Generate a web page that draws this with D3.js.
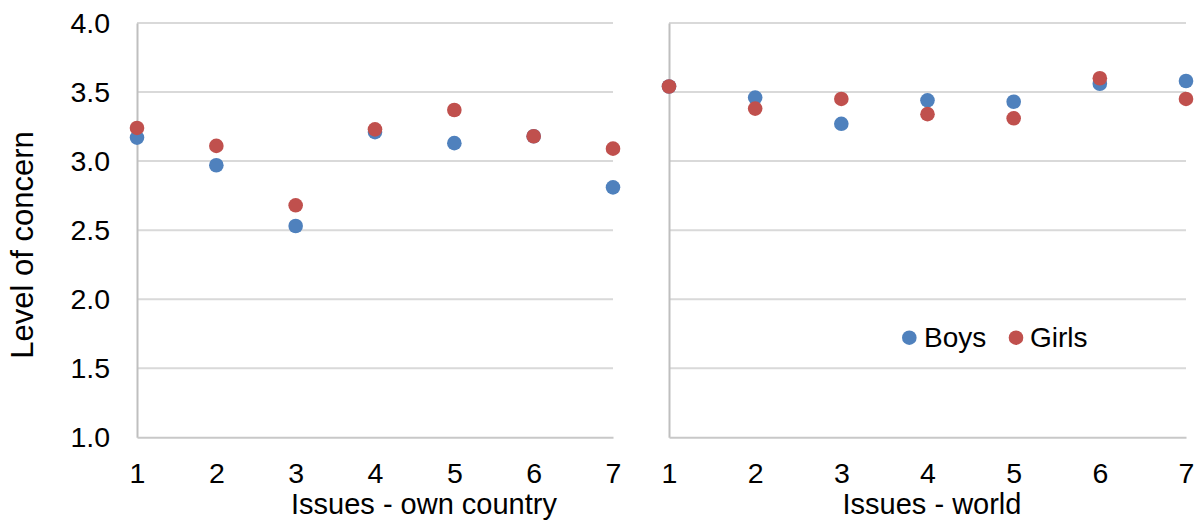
<!DOCTYPE html>
<html>
<head>
<meta charset="utf-8">
<script src="https://cdn.jsdelivr.net/npm/d3@7/dist/d3.min.js"></script>
<style>
  html, body { margin: 0; padding: 0; background: #fff; }
  svg { display: block; font-family: "Liberation Sans", Arial, sans-serif; }
</style>
</head>
<body>
<svg id="chart" width="1198" height="520"></svg>
<script>
// ---- data ----
const issues = [1, 2, 3, 4, 5, 6, 7];
const yTicks = [1.0, 1.5, 2.0, 2.5, 3.0, 3.5, 4.0];
const boysOwn   = [3.17, 2.97, 2.53, 3.21, 3.13, 3.18, 2.81];
const girlsOwn  = [3.24, 3.11, 2.68, 3.23, 3.37, 3.18, 3.09];
const boysWorld  = [3.54, 3.46, 3.27, 3.44, 3.43, 3.56, 3.58];
const girlsWorld = [3.54, 3.38, 3.45, 3.34, 3.31, 3.60, 3.45];
const seriesNames = ["Boys", "Girls"];
const seriesColors = ["#4F81BD", "#C0504D"];
const panelTitles = ["Issues - own country", "Issues - world"];
const yTitle = "Level of concern";

const FONT = "'Liberation Sans', Arial, sans-serif";
const svg = d3.select("#chart");
const y = d3.scaleLinear().domain([1, 4]).range([437.3, 23]);

const panels = [
  { x0: 137, x1: 613, boys: boysOwn, girls: girlsOwn, title: panelTitles[0], titleX: 424, yLabels: true },
  { x0: 669, x1: 1186, boys: boysWorld, girls: girlsWorld, title: panelTitles[1], titleX: 932, yLabels: false }
];

panels.forEach(p => {
  const x = d3.scaleLinear().domain([1, 7]).range([p.x0, p.x1]);
  const g = svg.append("g");

  // gridlines
  g.append("g")
    .selectAll("line")
    .data(yTicks.filter(v => v > 1))
    .join("line")
    .attr("x1", p.x0).attr("x2", p.x1)
    .attr("y1", d => y(d)).attr("y2", d => y(d))
    .attr("stroke", "#d9d9d9").attr("stroke-width", 2);

  // y axis
  const ya = g.append("g")
    .attr("transform", `translate(${p.x0},0)`)
    .call(d3.axisLeft(y).tickValues(yTicks).tickFormat(d3.format(".1f")).tickSize(0).tickPadding(27));
  ya.select(".domain").attr("stroke", "#bfbfbf").attr("stroke-width", 2);
  ya.selectAll("text").attr("font-size", 28.5).attr("fill", "#000")
    .attr("font-family", FONT);
  if (!p.yLabels) ya.selectAll(".tick text").remove();

  // x axis
  const xa = g.append("g")
    .attr("transform", `translate(0,${y(1)})`)
    .call(d3.axisBottom(x).tickValues(issues).tickFormat(d3.format("d")).tickSize(0).tickPadding(25));
  xa.select(".domain").attr("stroke", "#c8c8c8").attr("stroke-width", 2);
  xa.selectAll("text").attr("font-size", 28.5).attr("fill", "#000")
    .attr("font-family", FONT);

  // points: Boys then Girls (girls on top)
  [p.boys, p.girls].forEach((vals, si) => {
    g.append("g").selectAll("circle")
      .data(vals)
      .join("circle")
      .attr("cx", (d, i) => x(issues[i]))
      .attr("cy", d => y(d))
      .attr("r", 7.3)
      .attr("fill", seriesColors[si]);
  });

  // panel title
  svg.append("text")
    .attr("x", p.titleX).attr("y", 514)
    .attr("text-anchor", "middle")
    .attr("font-size", 29)
    .attr("font-family", FONT)
    .attr("fill", "#000")
    .text(p.title);
});

// y title
svg.append("text")
  .attr("transform", "translate(33,245) rotate(-90)")
  .attr("text-anchor", "middle")
  .attr("font-size", 31)
  .attr("font-family", FONT)
  .attr("fill", "#000")
  .text(yTitle);

// legend
const legendItems = [
  { cx: 909.3, tx: 924 },
  { cx: 1016, tx: 1030 }
];
const lg = svg.append("g");
seriesNames.forEach((name, i) => {
  lg.append("circle")
    .attr("cx", legendItems[i].cx).attr("cy", 337.7)
    .attr("r", 7.3).attr("fill", seriesColors[i]);
  lg.append("text")
    .attr("x", legendItems[i].tx).attr("y", 346.5)
    .attr("font-size", 28).attr("font-family", FONT).attr("fill", "#000")
    .text(name);
});
</script>
</body>
</html>
